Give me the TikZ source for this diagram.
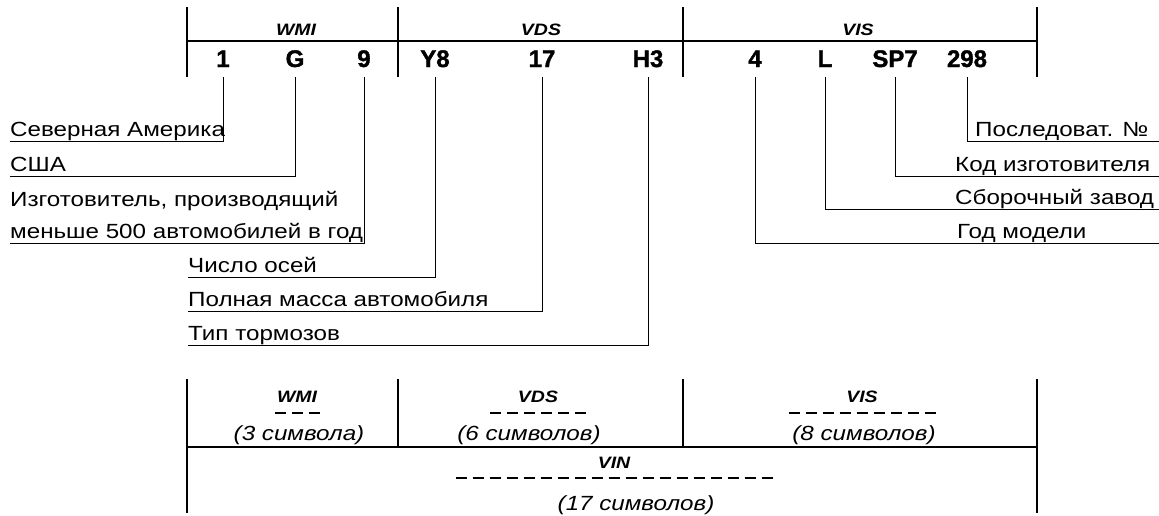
\documentclass[tikz,border=0pt]{standalone}
\usepackage{fontspec}
\setmainfont{Liberation Sans}[FakeStretch=1.18]
\newfontfamily\heavyfont{Liberation Sans}[FakeBold=1.5]
\usetikzlibrary{calc}
\tikzset{
  bar/.style={line width=2.6pt},
  rule/.style={line width=2.4pt},
  lead/.style={line width=1pt},
  code/.style={font=\heavyfont\bfseries\fontsize{24}{24}\selectfont, inner sep=0pt, anchor=base},
  tag/.style={font=\bfseries\itshape\fontsize{16.5}{17}\selectfont, inner sep=0pt, anchor=base},
  lab/.style={font=\fontsize{20.5}{32}\selectfont, inner sep=0pt, anchor=base west},
  cnt/.style={font=\itshape\fontsize{20.5}{21}\selectfont, inner sep=0pt, anchor=base},
  dashrule/.style={line width=1.4pt, dash pattern=on 11pt off 6pt},
}
\begin{document}
\begin{tikzpicture}[x=1pt,y=-1pt]
\useasboundingbox (0,0) rectangle (1159,515);
% ---------- top frame ----------
\draw[bar] (187,7) -- (187,77);
\draw[bar] (398,7) -- (398,77);
\draw[bar] (683,7) -- (683,77);
\draw[bar] (1037,7) -- (1037,77);
\draw[rule] (187,41) -- (1037,41);
\node[tag] (tw) at (296,35) {WMI};
\node[tag] (td) at (541,35) {VDS};
\node[tag] (ts) at (858,35) {VIS};
% code characters
\node[code] (c1) at (223,67) {1};
\node[code] (c2) at (295,67) {G};
\node[code] (c3) at (364,67) {9};
\node[code] (c4) at (435,67) {Y8};
\node[code] (c5) at (542,67) {17};
\node[code] (c6) at (648,67) {H3};
\node[code] (c7) at (755,67) {4};
\node[code] (c8) at (825,67) {L};
\node[code] (c9) at (895,67) {SP7};
\node[code] (c10) at (967,67) {298};
% ---------- left labels ----------
\node[lab] (l1) at (10,136) {Северная Америка};
\node[lab] (l2) at (10,171) {США};
\node[lab] (l3) at (10,206) {Изготовитель, производящий};
\node[lab] (l3b) at (10,238) {меньше 500 автомобилей в год};
\node[lab] (l4) at (188,272) {Число осей};
\node[lab] (l5) at (188,306) {Полная масса автомобиля};
\node[lab] (l6) at (188,340) {Тип тормозов};
% ---------- right labels ----------
\node[lab] (r1) at (975,136) {Последоват. №};
\node[lab] (r2) at (955,171) {Код изготовителя};
\node[lab] (r3) at (955,204) {Сборочный завод};
\node[lab] (r4) at (957,238) {Год модели};
\coordinate (e1) at (1159,141);
\coordinate (e2) at (1159,176);
\coordinate (e3) at (1159,209);
\coordinate (e4) at (1159,243);
% ---------- leaders ----------
\draw[lead] ($(c1.base)+(0,10)$) |- ($(l1.base west)+(0,5)$);
\draw[lead] ($(c2.base)+(0,10)$) |- ($(l2.base west)+(0,5)$);
\draw[lead] ($(c3.base)+(0,10)$) |- ($(l3b.base west)+(0,5)$);
\draw[lead] ($(c4.base)+(0,10)$) |- ($(l4.base west)+(0,5)$);
\draw[lead] ($(c5.base)+(0,10)$) |- ($(l5.base west)+(0,5)$);
\draw[lead] ($(c6.base)+(0,10)$) |- ($(l6.base west)+(0,5)$);
\draw[lead] ($(c10.base)+(0,10)$) |- (e1);
\draw[lead] ($(c9.base)+(0,10)$) |- (e2);
\draw[lead] ($(c8.base)+(0,10)$) |- (e3);
\draw[lead] ($(c7.base)+(0,10)$) |- (e4);
% ---------- bottom frame ----------
\draw[bar] (187,379) -- (187,513);
\draw[bar] (1037,379) -- (1037,513);
\draw[bar] (398,379) -- (398,447);
\draw[bar] (683,379) -- (683,447);
\draw[rule] (187,447) -- (1037,447);
\node[tag] (bw) at (297,402) {WMI};
\node[tag] (bd) at (538,402) {VDS};
\node[tag] (bs) at (862,402) {VIS};
\node[tag] (bv) at (614,468) {VIN};
\draw[dashrule] (274.5,413) -- (319.5,413);
\draw[dashrule] (490,413) -- (586,413);
\draw[dashrule] (788.5,413) -- (935.5,413);
\draw[dashrule] (455.5,478) -- (772.5,478);
\node[cnt] (nw) at (299,440) {(3 символа)};
\node[cnt] (nd) at (529,440) {(6 символов)};
\node[cnt] (ns) at (864,440) {(8 символов)};
\node[cnt] (nv) at (636,510) {(17 символов)};
\end{tikzpicture}
\end{document}
